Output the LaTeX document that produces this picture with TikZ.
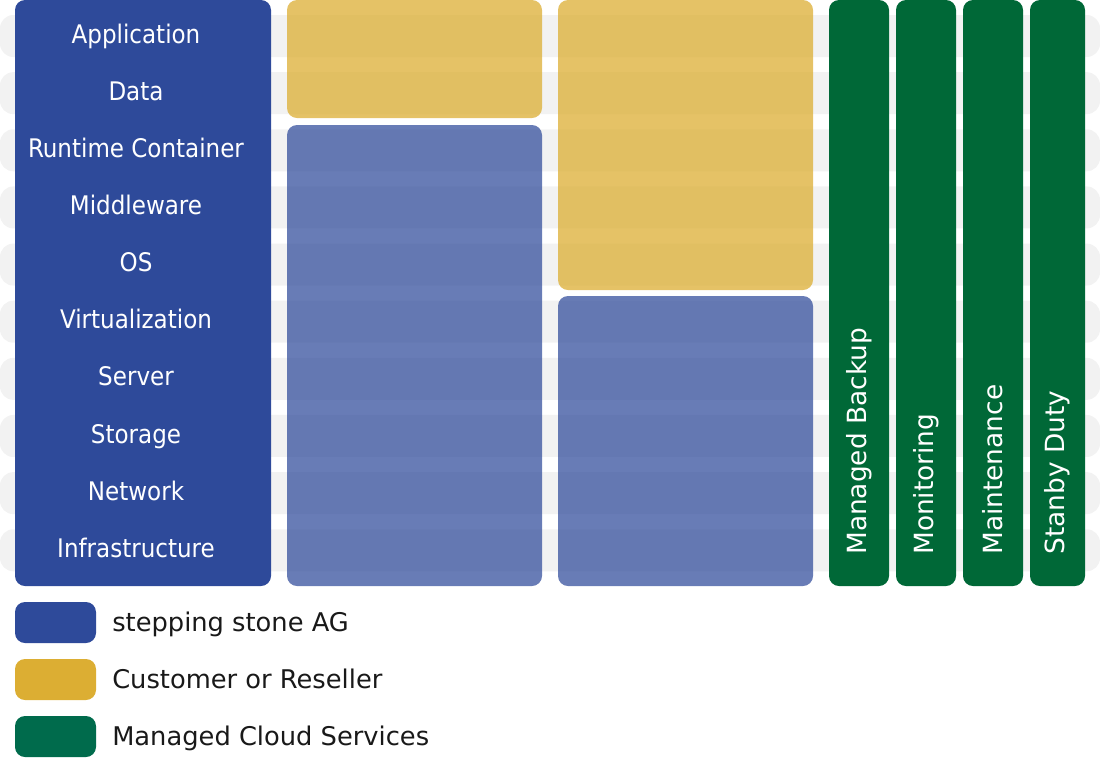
\documentclass[tikz,border=0pt]{standalone}
\usepackage{fontspec}
\setmainfont{DejaVu Sans}
\newfontfamily\condensedfont{DejaVu Sans Condensed}
\usetikzlibrary{positioning}
\definecolor{ssblue}{HTML}{2E4A9A}
\definecolor{ssyellow}{HTML}{DCAE33}
\definecolor{ssgreen}{HTML}{006837}
\definecolor{keygreen}{HTML}{006B4C}
\definecolor{stripegray}{HTML}{F2F2F2}

\begin{document}
\begin{tikzpicture}[
    x=0.75pt, y=-0.75pt,
    stripebar/.style={
        rectangle, fill=stripegray, rounded corners=10pt,
        minimum width=825pt, minimum height=31.5pt,
        inner sep=0pt, outer sep=0pt, anchor=north west
    },
    block/.style={
        rectangle, rounded corners=7.5pt,
        inner sep=0pt, outer sep=0pt, anchor=north west
    },
    stackbox/.style={block, fill=ssblue, minimum width=192pt, minimum height=439.5pt},
    custbox/.style={block, fill=ssyellow, fill opacity=0.75, minimum width=191.25pt},
    provbox/.style={block, fill=ssblue, fill opacity=0.72, minimum width=191.25pt},
    svcbox/.style={block, fill=ssgreen, minimum width=45pt, minimum height=439.5pt},
    layer/.style={
        minimum height=42.86pt, inner sep=0pt, outer sep=0pt, text=white,
        text height=14.5pt, text depth=4pt,
        font=\condensedfont\fontsize{19.2}{22}\selectfont
    },
    svclabel/.style={
        rotate=90, anchor=west, inner sep=0pt, text=white,
        font=\fontsize{19.8}{22}\selectfont
    },
    keybox/.style={block, minimum width=60.75pt, minimum height=30.75pt},
    keytext/.style={
        inner sep=0pt, text=black!90, text height=17.5pt, text depth=4pt,
        font=\fontsize{19.3}{22}\selectfont
    }
]
    \useasboundingbox (0,0) rectangle (1100,758);

    % row stripes behind the columns
    \foreach \i in {0,...,9}
        \node[stripebar] (stripe\i) at (0,15+57.14*\i) {};

    % columns
    \node[stackbox] (stack) at (15,0) {};
    \node[custbox, minimum height=88.5pt] (custA) at (287,0) {};
    \node[provbox, minimum height=345.75pt] (provA) at (287,125) {};
    \node[custbox, minimum height=217.5pt] (custB) at (558,0) {};
    \node[provbox, minimum height=217.5pt] (provB) at (558,296) {};
    \node[svcbox] (backup) at (829,0) {};
    \node[svcbox] (monitor) at (896,0) {};
    \node[svcbox] (maint) at (963,0) {};
    \node[svcbox, minimum width=41.25pt] (standby) at (1030,0) {};

    % layer names
    \node[layer] (app) at (136,36) {Application};
    \node[layer, below=0pt of app] (data) {Data};
    \node[layer, below=0pt of data] (runtime) {Runtime Container};
    \node[layer, below=0pt of runtime] (middle) {Middleware};
    \node[layer, below=0pt of middle] (os) {OS};
    \node[layer, below=0pt of os] (virt) {Virtualization};
    \node[layer, below=0pt of virt] (server) {Server};
    \node[layer, below=0pt of server] (storage) {Storage};
    \node[layer, below=0pt of storage] (network) {Network};
    \node[layer, below=0pt of network] (infra) {Infrastructure};

    % service names
    \path (backup.south) ++(0,-31) node[svclabel] (backuplbl) {Managed Backup};
    \path (monitor.south) ++(0,-31) node[svclabel] (monitorlbl) {Monitoring};
    \path (maint.south) ++(0,-31) node[svclabel] (maintlbl) {Maintenance};
    \path (standby.south) ++(0,-31) node[svclabel] (standbylbl) {Stanby Duty};

    % legend
    \node[keybox, fill=ssblue, below right=12pt and 0pt of stack.south west] (keyss) {};
    \node[keybox, fill=ssyellow, below=12pt of keyss.south west, anchor=north west] (keycust) {};
    \node[keybox, fill=keygreen, below=12pt of keycust.south west, anchor=north west] (keymcs) {};
    \node[keytext, right=12pt of keyss] (keysstext) {stepping stone AG};
    \node[keytext, right=12pt of keycust] (keycusttext) {Customer or Reseller};
    \node[keytext, right=12pt of keymcs] (keymcstext) {Managed Cloud Services};
\end{tikzpicture}
\end{document}
